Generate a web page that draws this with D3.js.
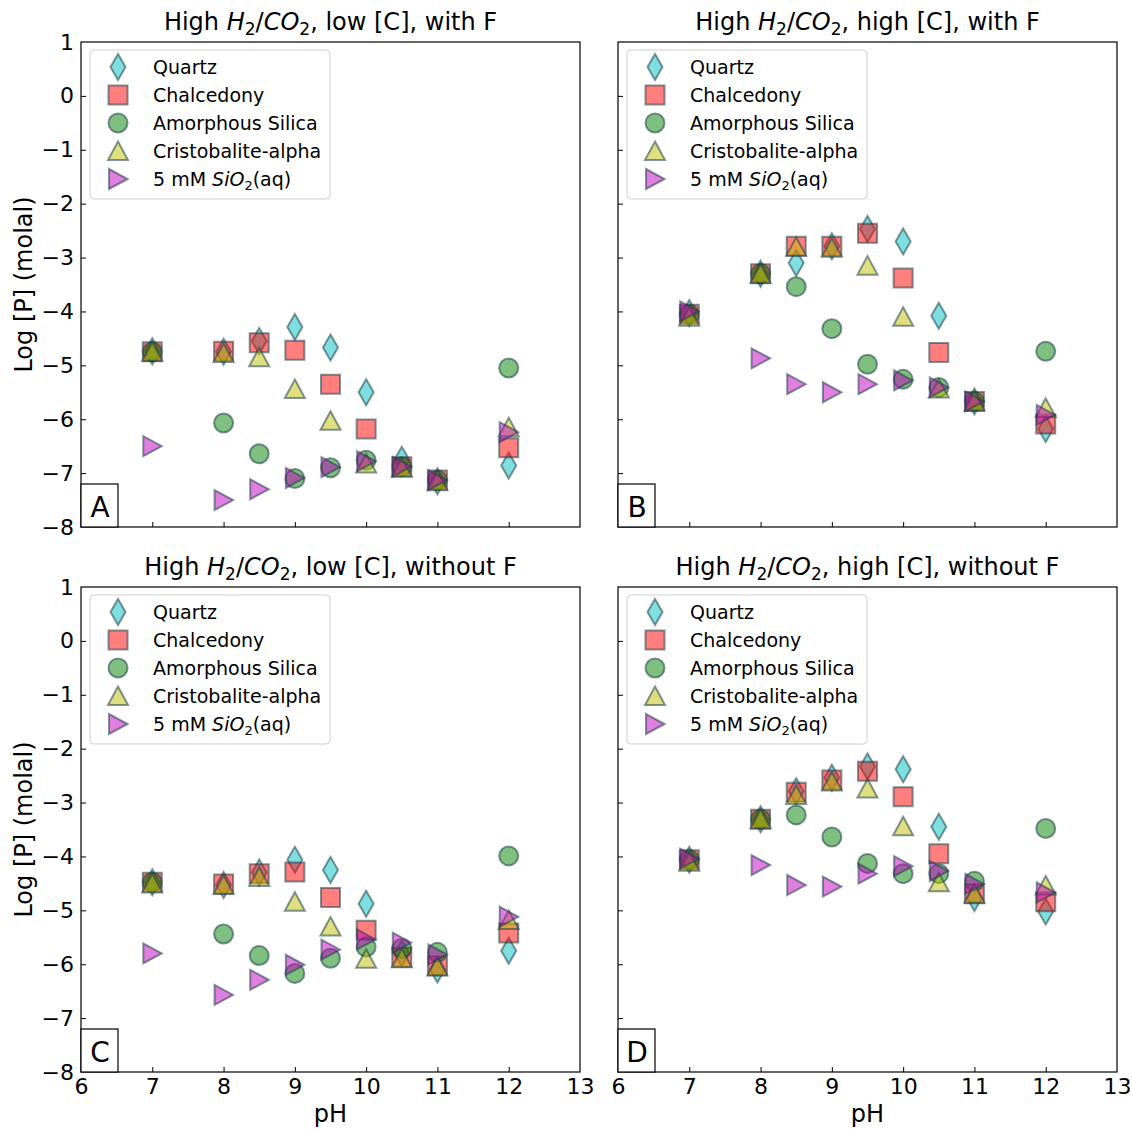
<!DOCTYPE html>
<html>
<head>
<meta charset="utf-8">
<script src="https://cdn.jsdelivr.net/npm/d3@7"></script>
<style>
  html, body { margin: 0; padding: 0; background: #fff; }
  svg { display: block; font-family: "DejaVu Sans", sans-serif; }
</style>
</head>
<body>
<div id="chart"></div>
<script>
// ---------------- DATA ----------------
const pH = [7, 8, 8.5, 9, 9.5, 10, 10.5, 11, 12];
const seriesNames = ["Quartz", "Chalcedony", "Amorphous Silica", "Cristobalite-alpha", "5 mM SiO2(aq)"];
const xTicks = [6, 7, 8, 9, 10, 11, 12, 13];
const yTicks = [1, 0, -1, -2, -3, -4, -5, -6, -7, -8];
const panelLetters = ["A", "B", "C", "D"];
const panelConditions = ["low [C], with F", "high [C], with F", "low [C], without F", "high [C], without F"];

// Panel A: High H2/CO2, low [C], with F
const A_quartz  = [-4.74, -4.75, -4.55, -4.29, -4.67, -5.50, -6.75, -7.15, -6.86];
const A_chalc   = [-4.75, -4.74, -4.58, -4.72, -5.35, -6.18, -6.88, -7.13, -6.53];
const A_amorph  = [-4.75, -6.07, -6.64, -7.10, -6.90, -6.76, -6.88, -7.13, -5.05];
const A_cristo  = [-4.75, -4.77, -4.85, -5.44, -6.03, -6.82, -6.90, -7.15, -6.15];
const A_sio2    = [-6.50, -7.50, -7.30, -7.09, -6.89, -6.78, -6.88, -7.13, -6.24];

// Panel B: High H2/CO2, high [C], with F
const B_quartz  = [-4.03, -3.30, -3.10, -2.79, -2.47, -2.70, -4.08, -5.67, -6.18];
const B_chalc   = [-4.05, -3.30, -2.79, -2.79, -2.55, -3.38, -4.76, -5.67, -6.09];
const B_amorph  = [-4.05, -3.30, -3.54, -4.32, -4.98, -5.26, -5.41, -5.67, -4.74];
const B_cristo  = [-4.10, -3.30, -2.80, -2.82, -3.15, -4.10, -5.43, -5.67, -5.79];
const B_sio2    = [-4.00, -4.87, -5.35, -5.50, -5.35, -5.28, -5.41, -5.67, -5.92];

// Panel C: High H2/CO2, low [C], without F
const C_quartz  = [-4.48, -4.53, -4.30, -4.06, -4.25, -4.88, -5.80, -6.10, -5.75];
const C_chalc   = [-4.48, -4.51, -4.32, -4.29, -4.76, -5.37, -5.87, -6.03, -5.42];
const C_amorph  = [-4.48, -5.44, -5.84, -6.17, -5.89, -5.68, -5.71, -5.78, -3.99];
const C_cristo  = [-4.50, -4.53, -4.38, -4.84, -5.30, -5.90, -5.89, -6.04, -5.18];
const C_sio2    = [-5.80, -6.57, -6.29, -6.01, -5.73, -5.54, -5.60, -5.82, -5.12];

// Panel D: High H2/CO2, high [C], without F
const D_quartz  = [-4.06, -3.31, -2.79, -2.54, -2.33, -2.38, -3.45, -4.77, -5.02];
const D_chalc   = [-4.06, -3.31, -2.81, -2.58, -2.42, -2.89, -3.95, -4.69, -4.84];
const D_amorph  = [-4.06, -3.31, -3.23, -3.64, -4.13, -4.32, -4.32, -4.46, -3.48];
const D_cristo  = [-4.10, -3.31, -2.86, -2.61, -2.74, -3.44, -4.48, -4.69, -4.54];
const D_sio2    = [-4.04, -4.16, -4.53, -4.56, -4.32, -4.18, -4.27, -4.51, -4.67];

const panelData = [
  [A_quartz, A_chalc, A_amorph, A_cristo, A_sio2],
  [B_quartz, B_chalc, B_amorph, B_cristo, B_sio2],
  [C_quartz, C_chalc, C_amorph, C_cristo, C_sio2],
  [D_quartz, D_chalc, D_amorph, D_cristo, D_sio2]
];

// ---------------- STYLE ----------------
const fills = ["#00bfbf", "#ff0000", "#008000", "#bfbf00", "#bf00bf"];
const shapes = ["thinDiamond", "square", "circle", "triangleUp", "triangleRight"];
const edge = "#1f3f4a";

function shapePath(kind) {
  switch (kind) {
    case "thinDiamond": return "M0,-13L7.5,0L0,13L-7.5,0Z";
    case "square": return "M-9.5,-9.5H9.5V9.5H-9.5Z";
    case "circle": return "M9.5,0A9.5,9.5 0 1,1 -9.5,0A9.5,9.5 0 1,1 9.5,0Z";
    case "triangleUp": return "M0,-9.5L10,9L-10,9Z";
    case "triangleRight": return "M9.5,0L-9,10L-9,-10Z";
  }
}

const W = 1132, H = 1130;
const svg = d3.select("#chart").append("svg").attr("width", W).attr("height", H);

const panelBoxes = [
  {left: 81, top: 42, right: 580, bottom: 527},
  {left: 618, top: 42, right: 1117, bottom: 527},
  {left: 81, top: 587, right: 580, bottom: 1072},
  {left: 618, top: 587, right: 1117, bottom: 1072}
];

const fmt = d3.format("d");

panelBoxes.forEach((b, i) => {
  const g = svg.append("g");
  const x = d3.scaleLinear().domain([6, 13]).range([b.left, b.right]);
  const y = d3.scaleLinear().domain([-8, 1]).range([b.bottom, b.top]);
  const showX = i >= 2, showY = i % 2 === 0;

  // axes (ticks inward)
  const xAxis = d3.axisBottom(x).tickValues(xTicks).tickSize(-5).tickPadding(6)
    .tickFormat(showX ? fmt : () => "");
  const yAxis = d3.axisLeft(y).tickValues(yTicks).tickSize(-5).tickPadding(7)
    .tickFormat(showY ? fmt : () => "");
  const gx = g.append("g").attr("transform", `translate(0,${b.bottom})`).call(xAxis);
  const gy = g.append("g").attr("transform", `translate(${b.left},0)`).call(yAxis);
  [gx, gy].forEach(ax => {
    ax.select(".domain").remove();
    ax.selectAll(".tick line").attr("stroke", "#000").attr("stroke-width", 1);
    ax.selectAll(".tick text").attr("font-size", 22).attr("fill", "#000")
      .attr("font-family", "DejaVu Sans");
  });
  gx.selectAll(".tick").filter(d => d === 6 || d === 13).select("line").remove();
  gy.selectAll(".tick").filter(d => d === 1 || d === -8).select("line").remove();

  // markers
  const plot = g.append("g");
  panelData[i].forEach((vals, s) => {
    plot.append("g").selectAll("path").data(vals.map((v, k) => ({x: pH[k], y: v})))
      .join("path")
      .attr("d", shapePath(shapes[s]))
      .attr("transform", d => `translate(${x(d.x)},${y(d.y)})`)
      .attr("fill", fills[s]).attr("fill-opacity", 0.5)
      .attr("stroke", edge).attr("stroke-opacity", 0.55).attr("stroke-width", 2);
  });

  // frame
  g.append("rect").attr("x", b.left).attr("y", b.top)
    .attr("width", b.right - b.left).attr("height", b.bottom - b.top)
    .attr("fill", "none").attr("stroke", "#000").attr("stroke-width", 1.2);

  // title
  const t = g.append("text").attr("x", (b.left + b.right) / 2).attr("y", b.top - 12)
    .attr("text-anchor", "middle").attr("font-size", 24).attr("fill", "#000");
  t.append("tspan").text("High ");
  t.append("tspan").attr("font-style", "italic").text("H");
  t.append("tspan").attr("font-size", 17).attr("dy", 5).text("2");
  t.append("tspan").attr("dy", -5).text("/");
  t.append("tspan").attr("font-style", "italic").text("CO");
  t.append("tspan").attr("font-size", 17).attr("dy", 5).text("2");
  t.append("tspan").attr("dy", -5).text(", " + panelConditions[i]);

  // legend
  const lg = g.append("g").attr("transform", `translate(${b.left + 9},${b.top + 8})`);
  lg.append("rect").attr("width", 240).attr("height", 149).attr("rx", 4)
    .attr("fill", "#fff").attr("fill-opacity", 0.8).attr("stroke", "#d0d0d0");
  seriesNames.forEach((name, s) => {
    const yy = 17 + s * 28;
    lg.append("path").attr("d", shapePath(shapes[s]))
      .attr("transform", `translate(28,${yy})`)
      .attr("fill", fills[s]).attr("fill-opacity", 0.5)
      .attr("stroke", edge).attr("stroke-opacity", 0.55).attr("stroke-width", 2);
    const tx = lg.append("text").attr("x", 63).attr("y", yy + 7)
      .attr("font-size", 19).attr("fill", "#000");
    if (name === "5 mM SiO2(aq)") {
      tx.append("tspan").text("5 mM ");
      tx.append("tspan").attr("font-style", "italic").text("SiO");
      tx.append("tspan").attr("font-size", 13).attr("dy", 4).text("2");
      tx.append("tspan").attr("dy", -4).text("(aq)");
    } else {
      tx.text(name);
    }
  });

  // panel letter box
  g.append("rect").attr("x", b.left).attr("y", b.bottom - 43).attr("width", 37).attr("height", 43)
    .attr("fill", "#fff").attr("stroke", "#000").attr("stroke-width", 1.2);
  g.append("text").attr("x", b.left + 19).attr("y", b.bottom - 10).attr("text-anchor", "middle")
    .attr("font-size", 28).attr("fill", "#000").text(panelLetters[i]);

  // axis labels
  if (showX) {
    g.append("text").attr("x", (b.left + b.right) / 2).attr("y", b.bottom + 50)
      .attr("text-anchor", "middle").attr("font-size", 24).attr("fill", "#000").text("pH");
  }
  if (showY) {
    g.append("text").attr("transform", `translate(32,${(b.top + b.bottom) / 2}) rotate(-90)`)
      .attr("text-anchor", "middle").attr("font-size", 24).attr("fill", "#000").text("Log [P] (molal)");
  }
});
</script>
</body>
</html>
